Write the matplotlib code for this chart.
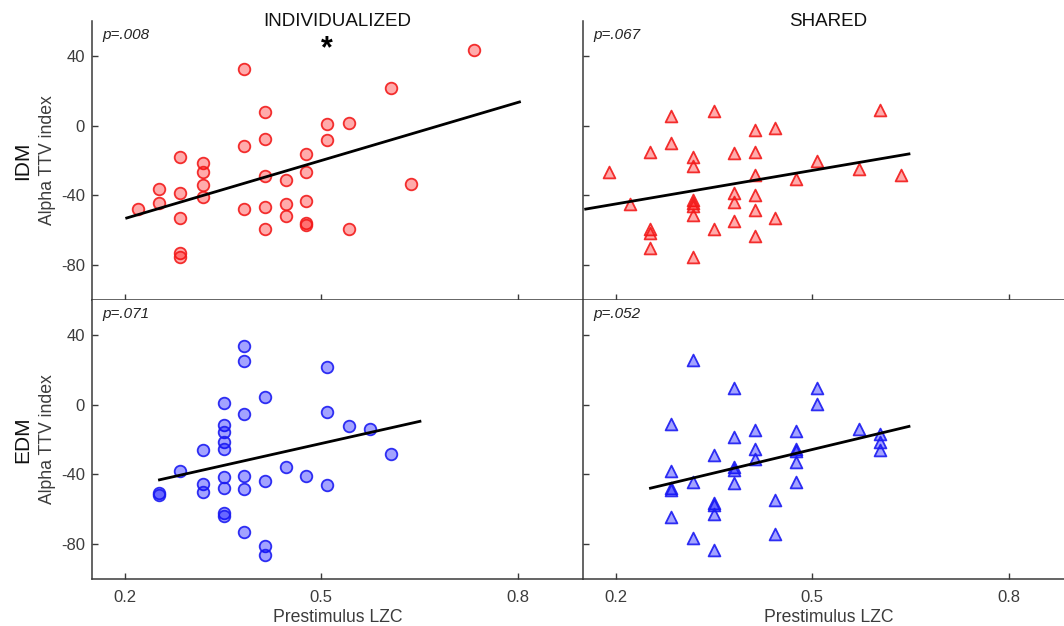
import matplotlib
matplotlib.use("Agg")
import matplotlib.pyplot as plt
import numpy as np

plt.rcParams['font.family'] = ['Liberation Sans', 'DejaVu Sans']

# ---------------- data ----------------
# IDM / INDIVIDUALIZED (red circles)
idm_ind_x = [0.221, 0.253, 0.253, 0.285, 0.285, 0.285, 0.285, 0.285, 0.319, 0.319, 0.319, 0.319,
             0.382, 0.382, 0.382, 0.414, 0.414, 0.414, 0.414, 0.414, 0.446, 0.446, 0.446,
             0.477, 0.477, 0.477, 0.477, 0.477, 0.509, 0.509, 0.543, 0.543, 0.606, 0.638, 0.734]
idm_ind_y = [-48.0, -36.4, -44.2, -17.8, -38.5, -52.8, -73.3, -75.2, -21.4, -26.8, -34.1, -40.8,
             32.3, -11.9, -47.7, 8.0, -7.5, -28.9, -46.9, -59.3, -31.2, -45.2, -52.1,
             -16.3, -26.8, -43.1, -56.1, -56.8, 0.8, -8.2, 1.3, -59.3, 21.4, -33.5, 43.6]
idm_ind_fit_x = [0.201, 0.805]
idm_ind_fit_y = [-53.2, 13.8]

# IDM / SHARED (red triangles)
idm_sh_x = [0.190, 0.222, 0.253, 0.253, 0.253, 0.253, 0.284, 0.284, 0.318, 0.318, 0.318, 0.318,
            0.318, 0.318, 0.318, 0.350, 0.350, 0.381, 0.381, 0.381, 0.381, 0.413, 0.413, 0.413,
            0.413, 0.413, 0.413, 0.444, 0.444, 0.476, 0.507, 0.572, 0.604, 0.635]
idm_sh_y = [-26.4, -45.0, -15.3, -59.5, -61.8, -69.9, 5.6, -9.8, -18.0, -23.2, -42.7, -44.2,
            -46.1, -51.5, -75.2, 8.6, -59.5, -15.9, -38.9, -44.0, -54.9, -2.5, -15.3, -28.3,
            -39.8, -48.4, -63.3, -1.1, -53.2, -30.8, -20.5, -25.1, 9.0, -28.3]
idm_sh_fit_x = [0.152, 0.650]
idm_sh_fit_y = [-48.0, -16.1]

# EDM / INDIVIDUALIZED (blue circles)
edm_ind_x = [0.253, 0.253, 0.285, 0.319, 0.319, 0.319, 0.351, 0.351, 0.351, 0.351, 0.351, 0.351,
             0.351, 0.351, 0.351, 0.382, 0.382, 0.382, 0.382, 0.382, 0.382, 0.414, 0.414, 0.414,
             0.414, 0.446, 0.477, 0.509, 0.509, 0.509, 0.543, 0.575, 0.606]
edm_ind_y = [-50.4, -51.7, -37.9, -26.0, -45.4, -50.0, 0.8, -11.7, -15.8, -21.5, -25.6, -41.5,
             -47.9, -62.1, -63.7, 33.5, 25.2, -5.2, -41.0, -48.5, -73.1, 4.4, -44.0, -81.2,
             -86.5, -35.8, -41.0, 21.5, -4.4, -46.3, -12.5, -13.8, -28.3]
edm_ind_fit_x = [0.251, 0.653]
edm_ind_fit_y = [-43.3, -9.4]

# EDM / SHARED (blue triangles)
edm_sh_x = [0.284, 0.284, 0.284, 0.284, 0.284, 0.318, 0.318, 0.318, 0.350, 0.350, 0.350, 0.350,
            0.350, 0.381, 0.381, 0.381, 0.381, 0.381, 0.413, 0.413, 0.413, 0.444, 0.444, 0.476,
            0.476, 0.476, 0.476, 0.476, 0.507, 0.507, 0.572, 0.604, 0.604, 0.604]
edm_sh_y = [-11.0, -37.9, -47.9, -48.8, -64.4, 25.6, -44.6, -76.3, -28.8, -56.2, -57.7, -62.9,
            -83.1, 9.8, -18.3, -36.0, -37.5, -45.2, -14.4, -25.6, -31.2, -54.8, -74.4, -15.2,
            -25.4, -26.7, -33.1, -44.2, 9.8, 0.6, -13.8, -16.7, -21.5, -26.3]
edm_sh_fit_x = [0.251, 0.650]
edm_sh_fit_y = [-48.1, -12.3]

p_values = ["p=.008", "p=.067", "p=.071", "p=.052"]
col_titles = ["INDIVIDUALIZED", "SHARED"]
row_labels = ["IDM", "EDM"]
x_ticks = [0.2, 0.5, 0.8]
x_ticklabels = ["0.2", "0.5", "0.8"]
y_ticks = [-80, -40, 0, 40]
y_ticklabels = ["-80", "-40", "0", "40"]

# ---------------- figure ----------------
W, H = 1064, 626
fig = plt.figure(figsize=(W / 100, H / 100), dpi=100)

def px_axes(left, top, width, height):
    return fig.add_axes([left / W, 1 - (top + height) / H, width / W, height / H])

ax_w, ax_h = 491, 279
lefts = [92, 583]
tops = [21, 300]

red_face = (1.0, 0.0, 0.0, 0.33)
red_edge = (0.95, 0.1, 0.1, 0.9)
blue_face = (0.0, 0.0, 1.0, 0.36)
blue_edge = (0.1, 0.1, 0.95, 0.9)

panels = [
    (0, 0, idm_ind_x, idm_ind_y, idm_ind_fit_x, idm_ind_fit_y, 'o', red_face, red_edge),
    (0, 1, idm_sh_x, idm_sh_y, idm_sh_fit_x, idm_sh_fit_y, '^', red_face, red_edge),
    (1, 0, edm_ind_x, edm_ind_y, edm_ind_fit_x, edm_ind_fit_y, 'o', blue_face, blue_edge),
    (1, 1, edm_sh_x, edm_sh_y, edm_sh_fit_x, edm_sh_fit_y, '^', blue_face, blue_edge),
]

axes = {}
spine_col = '#3a3a3a'
text_col = '#3c3c3c'
for i, (r, c, xs, ys, fx, fy, mk, fc, ec) in enumerate(panels):
    ax = px_axes(lefts[c], tops[r], ax_w, ax_h)
    axes[(r, c)] = ax
    ax.set_xlim(0.15, 0.9)
    ax.set_ylim(-100, 60)
    ax.scatter(xs, ys, marker=mk, s=70 if mk == 'o' else 72, facecolors=fc,
               edgecolors=ec, linewidths=1.3, zorder=3)
    ax.plot(fx, fy, color='black', lw=2.0, zorder=4, solid_capstyle='butt')
    for s in ['top', 'right']:
        ax.spines[s].set_visible(False)
    for s in ['left', 'bottom']:
        ax.spines[s].set_color(spine_col)
        ax.spines[s].set_linewidth(1.1)
    ax.set_xticks(x_ticks)
    ax.set_yticks(y_ticks)
    ax.tick_params(direction='in', length=4, width=1.0, color=spine_col,
                   labelsize=12, labelcolor=text_col)
    ax.tick_params(axis='x', pad=8)
    ax.tick_params(axis='y', pad=5)
    if r == 0:
        ax.set_xticklabels([])
    else:
        ax.set_xticklabels(x_ticklabels)
        ax.set_xlabel("Prestimulus LZC", fontsize=12.7, color=text_col, labelpad=3)
    if c == 1:
        ax.set_yticklabels([])
    else:
        ax.set_yticklabels(y_ticklabels)
    ax.text(10 / ax_w, 1 - 14 / ax_h, p_values[i], transform=ax.transAxes,
            fontsize=11, style='italic', color='#222222', ha='left', va='center')
    if r == 0:
        ax.text(0.5, 1.0, col_titles[c], transform=ax.transAxes, fontsize=13.5,
                ha='center', va='center', color='#111111')

# significance star
axes[(0, 0)].text(0.509, 44, "*", fontsize=22, fontweight='bold', ha='center', va='center',
                  color='black')

# row labels
for r in range(2):
    ycen = 1 - (tops[r] + ax_h / 2) / H
    fig.text(22.5 / W, ycen, row_labels[r], rotation=90, fontsize=15, ha='center', va='center',
             color='#111111')
    fig.text(48 / W, ycen, "Alpha TTV index", rotation=90, fontsize=12.7, ha='center',
             va='center', color=text_col)

fig.savefig("out.png", dpi=100)
